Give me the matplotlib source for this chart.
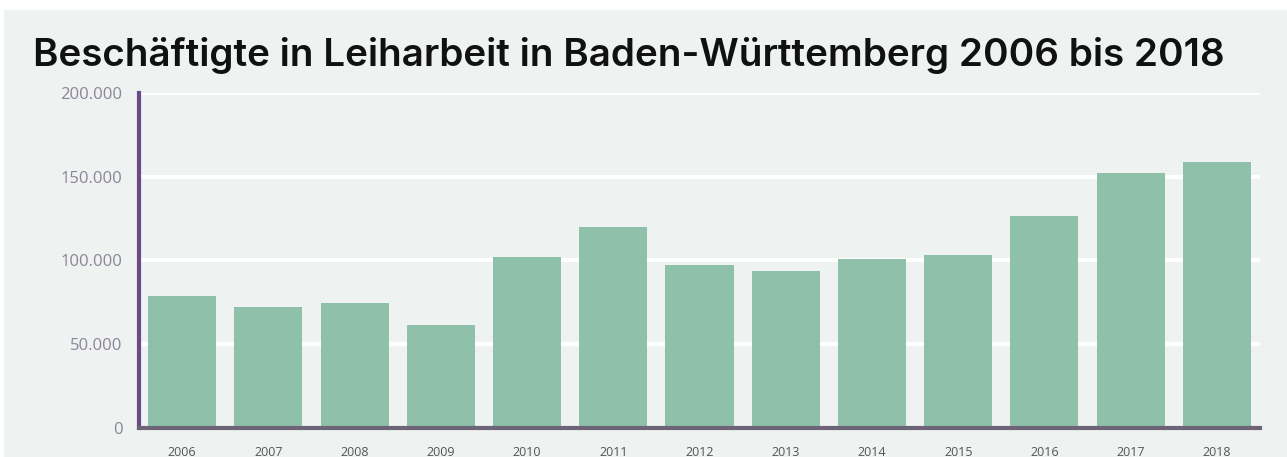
import matplotlib.pyplot as plt
import matplotlib.patches as patches
from matplotlib.ticker import FuncFormatter

# values
years = ["2006", "2007", "2008", "2009", "2010", "2011", "2012",
         "2013", "2014", "2015", "2016", "2017", "2018"]
employees = [79000, 72000, 74500, 61500, 102000, 120000, 97500,
             93500, 101000, 103000, 126500, 152000, 159000]
y_ticks = [0, 50000, 100000, 150000, 200000]

TITLE = "Beschäftigte in Leiharbeit in Baden-Württemberg 2006 bis 2018"
BG = "#eef2f1"
BAR = "#8fc1aa"
PURPLE = "#6b4a8c"
LABEL = "#8f8497"

fig = plt.figure(figsize=(12.87, 4.57), dpi=100)
fig.patch.set_facecolor("white")
fig.add_artist(patches.Rectangle((0.003, 0), 0.997, 1 - 10 / 457,
                                 transform=fig.transFigure,
                                 facecolor=BG, edgecolor="none", zorder=0))

ax = fig.add_axes([139 / 1287, 1 - 428 / 457, (1260 - 139) / 1287, (428 - 93) / 457])
ax.set_facecolor(BG)

x = range(len(years))
ax.bar(x, employees, width=0.79, color=BAR, zorder=2)

ax.set_xlim(-0.5, 12.5)
ax.set_ylim(0, 200000)
ax.set_yticks(y_ticks)
ax.yaxis.set_major_formatter(FuncFormatter(lambda v, _: f"{int(v):,}".replace(",", ".")))
ax.set_xticks(list(x))
ax.set_xticklabels(years)

ax.grid(axis="y", color="white", linewidth=3, zorder=1)
ax.set_axisbelow(True)

for side in ("top", "right"):
    ax.spines[side].set_visible(False)
ax.spines["left"].set_color(PURPLE)
ax.spines["left"].set_linewidth(3)
ax.spines["bottom"].set_color("#6e6478")
ax.spines["bottom"].set_linewidth(3)

ax.tick_params(axis="both", length=0)
ax.tick_params(axis="y", labelsize=12, labelcolor=LABEL, pad=12)
ax.tick_params(axis="x", labelsize=9, labelcolor="#555555", pad=13)
for lab in ax.get_yticklabels() + ax.get_xticklabels():
    lab.set_family("Open Sans")

fig.text(33 / 1287, 1 - 66 / 457, TITLE, fontsize=27.8, fontweight="semibold",
         family="Inter", color="#111111", ha="left", va="baseline")

fig.savefig("out.png", dpi=100, facecolor=fig.get_facecolor())
